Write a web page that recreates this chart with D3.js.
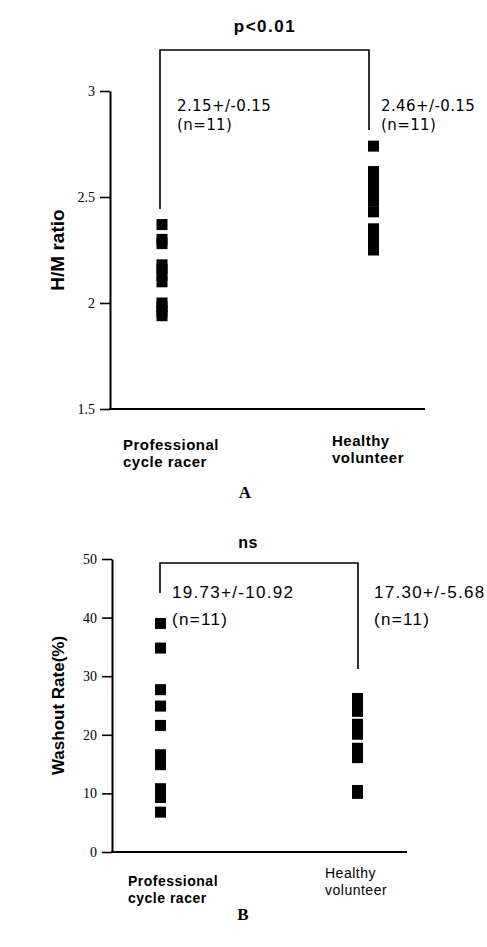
<!DOCTYPE html>
<html><head><meta charset="utf-8">
<script src="https://cdn.jsdelivr.net/npm/d3@7"></script>
<style>body{margin:0;background:#fff} svg{display:block;background:#fff}</style>
</head><body><svg id="c" width="487" height="947"></svg>
<script>
// ---- data ----
const groups = ["Professional cycle racer", "Healthy volunteer"];
const groupLines = [["Professional", "cycle racer"], ["Healthy", "volunteer"]];
const hmProfessional = [2.37, 2.30, 2.28, 2.18, 2.16, 2.13, 2.10, 2.00, 1.98, 1.96, 1.94];
const hmHealthy = [2.74, 2.62, 2.57, 2.55, 2.52, 2.48, 2.43, 2.35, 2.30, 2.28, 2.25];
const washProfessional = [39.0, 34.8, 27.7, 24.9, 21.6, 16.6, 15.8, 14.9, 10.8, 9.3, 6.8];
const washHealthy = [26.2, 25.1, 24.0, 21.8, 20.9, 20.1, 17.7, 16.9, 16.1, 10.5, 10.0];
const hmTicks = [1.5, 2, 2.5, 3];
const hmTickLabels = ["1.5", "2", "2.5", "3"];
const washTicks = [0, 10, 20, 30, 40, 50];
const washTickLabels = ["0", "10", "20", "30", "40", "50"];
const hmStats = ["2.15+/-0.15", "2.46+/-0.15"];
const washStats = ["19.73+/-10.92", "17.30+/-5.68"];
const nLabel = "(n=11)";
const hmSig = "p<0.01";
const washSig = "ns";
const yTitles = ["H/M ratio", "Washout Rate(%)"];
const panelLetters = ["A", "B"];

const svg = d3.select("#c");
svg.append("rect").attr("width", 487).attr("height", 947).attr("fill", "#fff");

function panel(cfg) {
  const g = svg.append("g");
  const y = d3.scaleLinear().domain(cfg.domain).range([cfg.bottom, cfg.top]);
  const x = d3.scalePoint().domain(groups).range(cfg.xr);

  // y axis
  const ax = g.append("g").attr("transform", `translate(${cfg.axisX},0)`)
    .call(d3.axisLeft(y).tickValues(cfg.ticks)
      .tickFormat((d, i) => cfg.tickLabels[i])
      .tickSize(10).tickSizeOuter(0).tickPadding(5));
  ax.select(".domain").attr("stroke", "#000").attr("stroke-width", 2);
  ax.selectAll(".tick line").attr("stroke", "#000").attr("stroke-width", 1.6);
  ax.selectAll(".tick text").attr("font-family", "'Liberation Serif', 'Times New Roman', serif")
    .attr("font-size", 14).attr("fill", "#000");

  // x axis line
  g.append("line").attr("x1", cfg.axisX - 1).attr("x2", cfg.xEnd)
    .attr("y1", cfg.bottom).attr("y2", cfg.bottom)
    .attr("stroke", "#000").attr("stroke-width", 2);

  // y title
  g.append("text")
    .attr("transform", `translate(${cfg.titleX},${(cfg.top + cfg.bottom) / 2 + cfg.titleDy}) rotate(-90)`)
    .attr("text-anchor", "middle")
    .attr("font-family", "'Liberation Sans', Arial, sans-serif")
    .attr("font-weight", "bold").attr("font-size", cfg.titleSize)
    .text(cfg.title);

  // markers
  const sz = 11;
  cfg.series.forEach((vals, i) => {
    g.selectAll(null).data(vals).enter().append("rect")
      .attr("x", x(groups[i]) - sz / 2)
      .attr("y", d => y(d) - sz / 2)
      .attr("width", sz).attr("height", sz)
      .attr("fill", "#000");
  });

  // bracket
  const bx0 = x(groups[0]) + cfg.bOff[0], bx1 = x(groups[1]) + cfg.bOff[1];
  g.append("path")
    .attr("d", `M${bx0},${cfg.bLeftEnd}V${cfg.bTop}H${bx1}V${cfg.bRightEnd}`)
    .attr("fill", "none").attr("stroke", "#000").attr("stroke-width", 1.6);

  // significance
  g.append("text").attr("x", cfg.sigX).attr("y", cfg.sigY)
    .attr("text-anchor", "middle")
    .attr("font-family", "'Liberation Sans', Arial, sans-serif")
    .attr("font-weight", "bold").attr("font-size", cfg.sigSize)
    .attr("letter-spacing", cfg.sigLs)
    .text(cfg.sig);

  // stats
  cfg.stats.forEach((s, i) => {
    const t = g.append("text")
      .attr("font-family", cfg.statFont).attr("font-size", cfg.statSize)
      .attr("letter-spacing", cfg.statLs);
    t.append("tspan").attr("x", cfg.statX[i]).attr("y", cfg.statY).text(s);
    t.append("tspan").attr("x", cfg.statX[i]).attr("y", cfg.statY + cfg.statGap).text(nLabel);
  });

  // category labels
  groupLines.forEach((lines, i) => {
    const t = g.append("text")
      .attr("font-family", "'Liberation Sans', Arial, sans-serif")
      .attr("font-weight", i === 0 ? "bold" : cfg.hWeight)
      .attr("font-size", cfg.catSize).attr("letter-spacing", cfg.catLs);
    lines.forEach((l, k) => t.append("tspan").attr("x", cfg.catX[i])
      .attr("y", cfg.catY[i] + k * cfg.catGap).text(l));
  });

  // panel letter
  g.append("text").attr("x", cfg.letterX).attr("y", cfg.letterY)
    .attr("text-anchor", "middle")
    .attr("font-family", "'Liberation Serif', 'Times New Roman', serif")
    .attr("font-weight", "bold").attr("font-size", 17)
    .text(cfg.letter);
}

panel({
  domain: [1.5, 3], ticks: hmTicks, tickLabels: hmTickLabels, top: 91, bottom: 409, axisX: 110, xEnd: 425,
  xr: [162, 373.5], series: [hmProfessional, hmHealthy],
  title: yTitles[0], titleX: 64, titleDy: 0, titleSize: 19,
  bOff: [-2, -4.5], bTop: 50, bLeftEnd: 209, bRightEnd: 130,
  sig: hmSig, sigX: 265, sigY: 32, sigSize: 17, sigLs: 1.5,
  stats: hmStats, statX: [177, 381], statY: 111, statGap: 19,
  statFont: "'DejaVu Sans', sans-serif", statSize: 15, statLs: 0.4,
  catX: [123, 332], catY: [450, 446], catGap: 17, catSize: 15, catLs: 0.5, hWeight: "bold",
  letter: panelLetters[0], letterX: 245, letterY: 498
});

panel({
  domain: [0, 50], ticks: washTicks, tickLabels: washTickLabels, top: 559, bottom: 852, axisX: 112, xEnd: 407,
  xr: [160.5, 357.5], series: [washProfessional, washHealthy],
  title: yTitles[1], titleX: 64, titleDy: 0, titleSize: 17,
  bOff: [-0.5, 0.5], bTop: 563, bLeftEnd: 593, bRightEnd: 669,
  sig: washSig, sigX: 248, sigY: 548, sigSize: 16, sigLs: 0.5,
  stats: washStats, statX: [172, 374], statY: 598, statGap: 27,
  statFont: "'Liberation Sans', Arial, sans-serif", statSize: 17, statLs: 1.3,
  catX: [128, 325], catY: [886, 878], catGap: 17, catSize: 14, catLs: 0.5, hWeight: "normal",
  letter: panelLetters[1], letterX: 243, letterY: 920
});
</script>
</body></html>
